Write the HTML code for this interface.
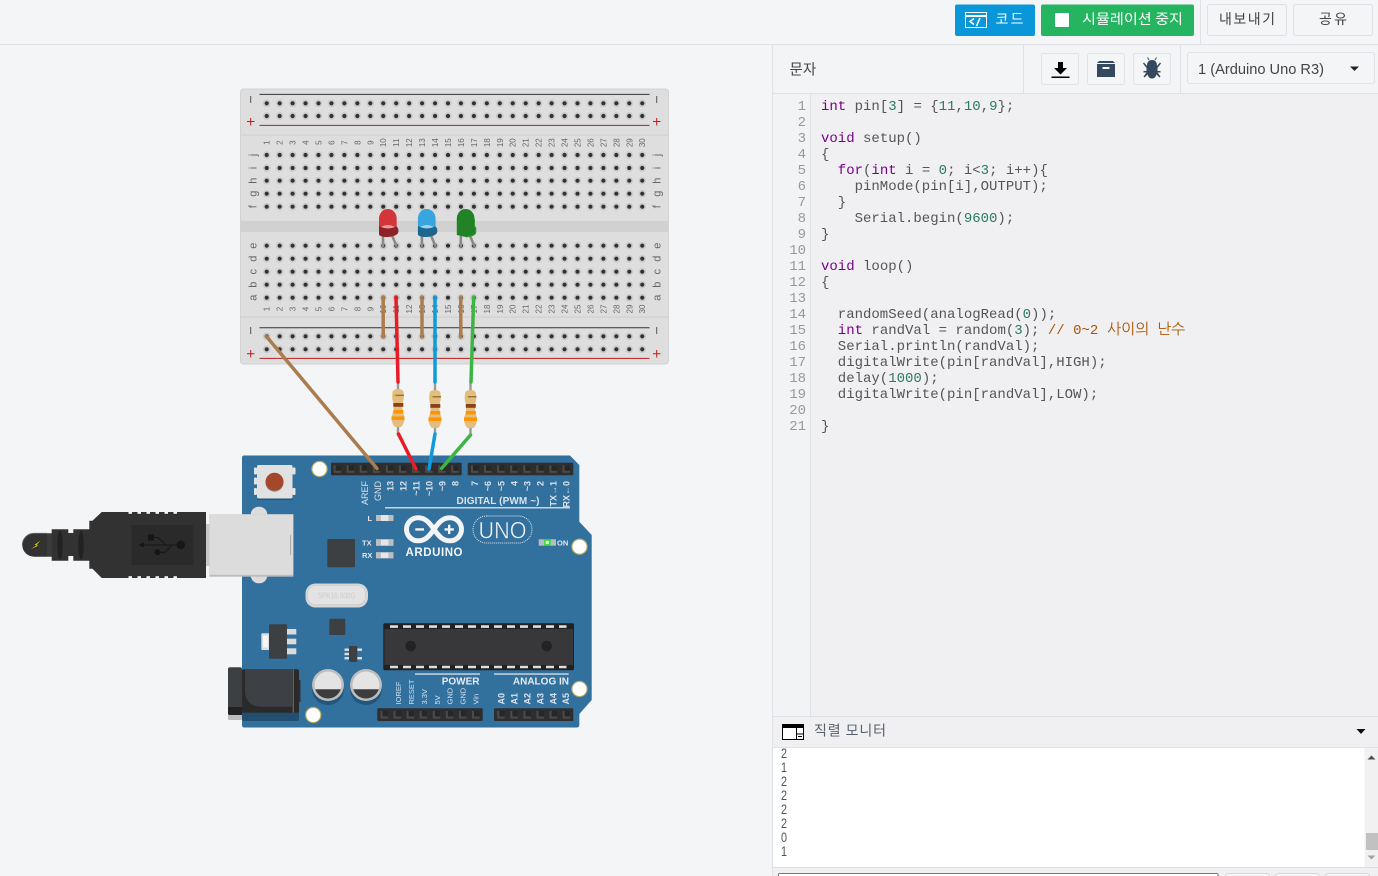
<!DOCTYPE html>
<html><head><meta charset="utf-8"><style>
html,body{margin:0;padding:0;width:1378px;height:876px;overflow:hidden;background:#f4f5f7}
svg{display:block}
text{font-family:"Liberation Sans","Noto Sans CJK KR",sans-serif}
.code text{font-family:"Liberation Mono","NanumGothic",monospace;font-size:14px;fill:#555;white-space:pre}
.k{fill:#708}.n{fill:#2a7a5c}
.ln text{font-family:"Liberation Mono",monospace;font-size:14px;fill:#999;text-anchor:end}
.bb{font-size:8px;fill:#666;text-anchor:middle}
.lt{font-size:11px;fill:#666;text-anchor:middle}
.pl{font-size:9px;font-weight:bold;fill:#d9e3ec;text-anchor:end}
.ps{font-size:7.5px;fill:#d9e3ec}
.pa{font-size:9px;font-weight:bold;fill:#d9e3ec}
.kr{font-family:"Noto Sans CJK KR","Liberation Sans",sans-serif}
</style></head><body>
<svg width="1378" height="876" viewBox="0 0 1378 876" xmlns="http://www.w3.org/2000/svg">
<defs><filter id="soft" filterUnits="userSpaceOnUse" x="0" y="70" width="700" height="680"><feGaussianBlur stdDeviation="0.35"/></filter></defs>
<rect width="1378" height="876" fill="#f4f5f7"/>

<g filter="url(#soft)">
<!-- Breadboard -->
<rect x="240.5" y="89" width="428" height="275" rx="3" fill="#dedede" stroke="#d2d2d2"/>
<rect x="241" y="134.5" width="427" height="1.2" fill="#d0d0d0"/>
<rect x="241" y="316.5" width="427" height="1.2" fill="#d0d0d0"/>
<rect x="241" y="221" width="427" height="11" fill="#d1d1d1"/>
<g fill="none" stroke-width="1">
<path d="M259.5 94.4H649.5M259.5 327.7H649.5" stroke="#333"/>
<path d="M259.5 125.4H649.5M259.5 358.4H649.5" stroke="#b91c1c"/>
</g>
<g fill="none" stroke="#c9c9c9" stroke-width="7.5" stroke-linecap="round" stroke-dasharray="0 12.95">
<path d="M266.7 103.3H642.3M266.7 116H642.3M266.7 155H642.3M266.7 168H642.3M266.7 180.7H642.3M266.7 193.7H642.3M266.7 206.7H642.3M266.7 245.7H642.3M266.7 258.7H642.3M266.7 271.7H642.3M266.7 284.7H642.3M266.7 297.7H642.3M266.7 336.3H642.3M266.7 349.3H642.3"/>
</g>
<g fill="none" stroke="#333" stroke-width="4.2" stroke-linecap="round" stroke-dasharray="0 12.95">
<path d="M266.7 103.3H642.3M266.7 116H642.3M266.7 155H642.3M266.7 168H642.3M266.7 180.7H642.3M266.7 193.7H642.3M266.7 206.7H642.3M266.7 245.7H642.3M266.7 258.7H642.3M266.7 271.7H642.3M266.7 284.7H642.3M266.7 297.7H642.3M266.7 336.3H642.3M266.7 349.3H642.3"/>
</g>
<g stroke-width="1" fill="none">
<path d="M250.7 96V103M656.7 96V103M250.7 327V334M656.7 327V334" stroke="#555"/>
<path d="M247 121.5H254.5M250.7 118V125.5M653 121.5H660.5M656.7 118V125.5M247 353.7H254.5M250.7 350V357.5M653 353.7H660.5M656.7 350V357.5" stroke="#b91c1c"/>
</g>
<!-- numbers -->
<g transform="translate(0,142.7) rotate(-90)"><g class="bb">
<text y="269.7">1</text><text y="282.6">2</text><text y="295.6">3</text><text y="308.5">4</text><text y="321.5">5</text><text y="334.4">6</text><text y="347.4">7</text><text y="360.3">8</text><text y="373.3">9</text><text y="386.2">10</text><text y="399.2">11</text><text y="412.1">12</text><text y="425.1">13</text><text y="438">14</text><text y="451">15</text><text y="463.9">16</text><text y="476.9">17</text><text y="489.8">18</text><text y="502.8">19</text><text y="515.7">20</text><text y="528.7">21</text><text y="541.6">22</text><text y="554.6">23</text><text y="567.5">24</text><text y="580.5">25</text><text y="593.4">26</text><text y="606.4">27</text><text y="619.3">28</text><text y="632.3">29</text><text y="645.2">30</text>
</g></g>
<g transform="translate(0,309) rotate(-90)"><g class="bb">
<text y="269.7">1</text><text y="282.6">2</text><text y="295.6">3</text><text y="308.5">4</text><text y="321.5">5</text><text y="334.4">6</text><text y="347.4">7</text><text y="360.3">8</text><text y="373.3">9</text><text y="386.2">10</text><text y="399.2">11</text><text y="412.1">12</text><text y="425.1">13</text><text y="438">14</text><text y="451">15</text><text y="463.9">16</text><text y="476.9">17</text><text y="489.8">18</text><text y="502.8">19</text><text y="515.7">20</text><text y="528.7">21</text><text y="541.6">22</text><text y="554.6">23</text><text y="567.5">24</text><text y="580.5">25</text><text y="593.4">26</text><text y="606.4">27</text><text y="619.3">28</text><text y="632.3">29</text><text y="645.2">30</text>
</g></g>
<!-- letters -->
<g class="lt">
<text transform="translate(256.5,155) rotate(-90)">j</text><text transform="translate(256.5,168) rotate(-90)">i</text><text transform="translate(256.5,180.7) rotate(-90)">h</text><text transform="translate(256.5,193.7) rotate(-90)">g</text><text transform="translate(256.5,206.7) rotate(-90)">f</text>
<text transform="translate(256.5,245.7) rotate(-90)">e</text><text transform="translate(256.5,258.7) rotate(-90)">d</text><text transform="translate(256.5,271.7) rotate(-90)">c</text><text transform="translate(256.5,284.7) rotate(-90)">b</text><text transform="translate(256.5,297.7) rotate(-90)">a</text>
<text transform="translate(660.5,155) rotate(-90)">j</text><text transform="translate(660.5,168) rotate(-90)">i</text><text transform="translate(660.5,180.7) rotate(-90)">h</text><text transform="translate(660.5,193.7) rotate(-90)">g</text><text transform="translate(660.5,206.7) rotate(-90)">f</text>
<text transform="translate(660.5,245.7) rotate(-90)">e</text><text transform="translate(660.5,258.7) rotate(-90)">d</text><text transform="translate(660.5,271.7) rotate(-90)">c</text><text transform="translate(660.5,284.7) rotate(-90)">b</text><text transform="translate(660.5,297.7) rotate(-90)">a</text>
</g>

<!-- LEDs -->
<g>
<g fill="none" stroke="#8a8a8a" stroke-width="2.6" stroke-linecap="round">
<path d="M383 236V246M392.3 236L396.5 246M421.9 236V246M431.2 236L435.4 246M460.8 236V246M470.1 236L474.3 246"/>
</g>
<path d="M379 234V226H396.5V226.500Q398.500 228 398.500 231Q398.500 236 388 237Q379 237 379 234Z" fill="#8e2126"/>
<path d="M379 226V218.500A8.800 9.500 0 0 1 396.700 218.500V226Q388 230 379 226Z" fill="#d43638"/>
<path d="M381 227Q388 223 395 227Q388 230 381 227Z" fill="#e79a9a"/>
<path d="M417.900 234V226H435.400V226.500Q437.400 228 437.400 231Q437.400 236 426.900 237Q417.900 237 417.900 234Z" fill="#1f668f"/>
<path d="M417.900 226V218.500A8.800 9.500 0 0 1 435.600 218.500V226Q426.900 230 417.900 226Z" fill="#38a5de"/>
<path d="M419.900 227Q426.900 223 433.900 227Q426.900 230 419.900 227Z" fill="#9bd0ea"/>
<path d="M456.800 235V218.500A8.800 9.500 0 0 1 474.500 218.500V226L475.800 228V232Q475.800 236 465.800 237L456.800 235Z" fill="#218225"/>
<path d="M474.500 219V226L475.800 228V232Q475.800 236 465.800 237" fill="none" stroke="#2f9c34" stroke-width="1"/>
</g>

<!-- Arduino board -->
<path d="M244 455.500H570L579.300 465V521.700L591.700 535V700L579.300 714V725Q579.300 727.500 577 727.500H244Q242 727.500 242 725V458Q242 455.500 244 455.500Z" fill="#306f9e"/>
<g fill="#fff" stroke="#b6a865" stroke-width="1.200">
<circle cx="319.500" cy="469" r="7.600"/><circle cx="579.500" cy="546.700" r="7.600"/><circle cx="579.500" cy="689" r="7.600"/><circle cx="313.300" cy="715" r="7.600"/>
</g>

<!-- Headers -->
<g>
<rect x="331" y="462.700" width="130.700" height="12.500" rx="1" fill="#2e2e2e"/>
<rect x="467.700" y="462.700" width="105.600" height="12.500" rx="1" fill="#2e2e2e"/>
<rect x="377.300" y="708.300" width="105.400" height="12.700" rx="1" fill="#2e2e2e"/>
<rect x="494" y="708.300" width="79.300" height="12.700" rx="1" fill="#2e2e2e"/>
<g fill="none" stroke="#4c4c4c" stroke-width="7.500" stroke-dasharray="7.500 5.570">
<path d="M333.600 469H461M471 469H572M380.500 714.700H482M497.300 714.700H572"/>
</g>
<g fill="none" stroke="#252525" stroke-width="5.500" stroke-dasharray="5.500 7.570">
<path d="M335.600 468H461M473 468H572M382.500 713.700H482M499.300 713.700H572"/>
</g>
</g>

<!-- Pin labels top -->
<g transform="translate(0,481) rotate(-90)"><g class="pl">
<text x="0" y="368" style="font-weight:normal">AREF</text><text x="0" y="381" style="font-weight:normal">GND</text>
<text x="0" y="393.500">13</text><text x="0" y="406.500">12</text><text x="0" y="419.500">~11</text><text x="0" y="432.500">~10</text><text x="0" y="445.500">~9</text><text x="0" y="458.500">8</text>
<text x="0" y="478">7</text><text x="0" y="491">~6</text><text x="0" y="504.500">~5</text><text x="0" y="517.500">4</text><text x="0" y="530.500">~3</text><text x="0" y="543.500">2</text><text x="0" y="556.500">TX→1</text><text x="0" y="569.500">RX←0</text>
</g></g>
<text x="456.500" y="504" font-size="10" font-weight="bold" fill="#d9e3ec" textLength="83">DIGITAL (PWM ~)</text>
<rect x="385" y="507" width="185" height="1.500" fill="#c6d5e1"/>

<!-- Small LEDs -->
<g fill="#e6e6e6">
<rect x="376" y="515" width="17.400" height="6"/><rect x="376" y="539.300" width="17.400" height="6.400"/><rect x="376" y="552.300" width="17.400" height="6"/>
</g>
<g fill="#bdbdbd"><rect x="376" y="515" width="5" height="6"/><rect x="388.400" y="515" width="5" height="6"/><rect x="376" y="539.300" width="5" height="6.400"/><rect x="388.400" y="539.300" width="5" height="6.400"/><rect x="376" y="552.300" width="5" height="6"/><rect x="388.400" y="552.300" width="5" height="6"/></g>
<g font-size="7.500" font-weight="bold" fill="#e3e9ef">
<text x="367.500" y="521">L</text><text x="362" y="545.500">TX</text><text x="362" y="558">RX</text>
</g>
<rect x="538.700" y="539.300" width="17.300" height="6.400" fill="#b5bcc2"/>
<rect x="544" y="539.500" width="7" height="6" fill="#4fd64f"/><rect x="545.800" y="541" width="3.200" height="3" fill="#d6ffd6"/>
<text x="557" y="545.500" font-size="7.500" font-weight="bold" fill="#e3e9ef">ON</text>
<rect x="327.300" y="539" width="27.700" height="28.300" rx="1" fill="#3c4043"/>

<!-- Logo -->
<path d="M434 529.300C429 522 425 517.800 418 517.800A11.500 11.500 0 0 0 418 540.800C425 540.800 429 536.600 434 529.300C439 522 443 517.800 450 517.800A11.500 11.500 0 0 1 450 540.800C443 540.800 439 536.600 434 529.300Z" fill="none" stroke="#f2f4f6" stroke-width="5"/>
<path d="M415.300 528.200H424V530.600H415.300ZM444.500 528.200H448V524.700H450.400V528.200H453.900V530.600H450.400V534H448V530.600H444.500Z" fill="#f2f4f6"/>
<text x="405.500" y="555.800" font-size="11.500" font-weight="bold" fill="#f2f4f6" textLength="57" lengthAdjust="spacing">ARDUINO</text>
<rect x="473" y="516" width="59" height="27" rx="13.500" fill="none" stroke="#e8eef3" stroke-width="1" stroke-dasharray="1 1"/>
<text x="502.500" y="538.500" font-size="24" fill="#f2f4f6" stroke="#306f9e" stroke-width=".5" text-anchor="middle" textLength="48" lengthAdjust="spacingAndGlyphs">UNO</text>

<!-- Reset -->
<g fill="#e4e4e4">
<rect x="254" y="467.500" width="3" height="7" rx="1"/><rect x="254" y="477.500" width="3" height="7" rx="1"/><rect x="254" y="488" width="3" height="7" rx="1"/>
<rect x="292.500" y="467.500" width="3" height="7" rx="1"/><rect x="292.500" y="488" width="3" height="7" rx="1"/>
</g>
<rect x="257" y="465" width="35.500" height="35" rx="1.500" fill="#24557b"/>
<rect x="257" y="465" width="35.500" height="33.500" rx="1.500" fill="#e1e1e1"/>
<circle cx="274.500" cy="482.700" r="9" fill="#8f8f8f"/><circle cx="274.500" cy="481.700" r="9" fill="#a5462a"/>

<!-- USB port -->
<rect x="250.700" y="506.700" width="16.600" height="76.600" rx="8" fill="#dcdcdc"/>
<rect x="206" y="524" width="4" height="42" fill="#c8c8c8"/>
<rect x="209.300" y="514.300" width="84" height="62.400" fill="#bcbcbc"/>
<rect x="209.300" y="514.300" width="84" height="60.500" fill="#dcdcdc"/>
<rect x="290" y="535" width="1" height="20" fill="#aaa"/>

<!-- USB plug -->
<path d="M22.300 545A11.700 11.700 0 0 1 34 533.300H51.700V529.300H68.300V533H73.300V529.300H89.300V520.700H92.500L101.700 512H206V578H101.700L92.500 568.700H89.300V560.700H73.300V556H68.300V560.700H51.700V556.700H34A11.700 11.700 0 0 1 22.300 545Z" fill="#333"/>
<path d="M22.300 545A11.700 11.700 0 0 1 34 533.300H47" fill="none" stroke="#666" stroke-width=".8"/>
<rect x="47" y="533.500" width="5" height="23" fill="#3b3b3b"/>
<ellipse cx="60" cy="545" rx="2.800" ry="14.500" fill="#222"/><ellipse cx="81" cy="545" rx="2.800" ry="14.500" fill="#222"/>
<path d="M40.500 541L34.500 545.500H37L31 549.500L38.500 546H36Z" fill="#f5e400" transform="translate(0,-.5)"/>
<g fill="#f4f5f7">
<rect x="128.500" y="511.500" width="3.500" height="2.300"/><rect x="137.500" y="511.500" width="3.500" height="2.300"/><rect x="146.500" y="511.500" width="3.500" height="2.300"/><rect x="155.500" y="511.500" width="3.500" height="2.300"/><rect x="164.500" y="511.500" width="3.500" height="2.300"/><rect x="173.500" y="511.500" width="3.500" height="2.300"/>
<rect x="128.500" y="576.200" width="3.500" height="2.300"/><rect x="137.500" y="576.200" width="3.500" height="2.300"/><rect x="146.500" y="576.200" width="3.500" height="2.300"/><rect x="155.500" y="576.200" width="3.500" height="2.300"/><rect x="164.500" y="576.200" width="3.500" height="2.300"/><rect x="173.500" y="576.200" width="3.500" height="2.300"/>
</g>
<rect x="131.700" y="525" width="61.600" height="40" fill="#292929"/>
<g fill="#171717"><circle cx="180.700" cy="545" r="4.200"/><rect x="148" y="534.500" width="6" height="6"/><circle cx="157.500" cy="552.300" r="3"/><path d="M138.500 545L144 542.500V547.500Z"/></g>
<path d="M143 545H178M151 537.500H158L166 545M160 552.300H165L172 545" fill="none" stroke="#171717" stroke-width="1"/>

<!-- Power jack -->
<rect x="242" y="700" width="57" height="21" rx="2" fill="#24506f"/>
<rect x="228" y="712" width="14" height="8" rx="1" fill="#bcbcbc"/>
<rect x="242" y="669.300" width="57" height="43.400" rx="2" fill="#2b2b2c"/>
<path d="M245 669.300H292V706.700H262Q245 706.700 245 690Z" fill="#3e4144"/>
<rect x="292.700" y="669.500" width="1" height="43" fill="#777"/>
<rect x="299" y="680" width="1.500" height="22" fill="#333"/>
<rect x="228" y="667.300" width="14" height="47.700" rx="2" fill="#3c4043"/>
<path d="M228 707H242V715H230Q228 715 228 713Z" fill="#232323"/>

<!-- Regulator -->
<rect x="261.300" y="633.300" width="9" height="16.700" rx="1" fill="#dcdcdc"/><rect x="263" y="635.500" width="5" height="12" fill="#f5f5f5"/>
<g fill="#dcdcdc"><rect x="286" y="629" width="10.300" height="5.500"/><rect x="286" y="638.700" width="10.300" height="5.600"/><rect x="286" y="648.300" width="10.300" height="6"/></g>
<rect x="269" y="624.300" width="18" height="34.400" rx="1" fill="#3c4043"/>

<!-- Crystal -->
<rect x="305.500" y="583.500" width="62.500" height="24" rx="10" fill="#d6d6d6"/>
<rect x="307.500" y="585.500" width="58" height="19" rx="8" fill="#e3e3e3" stroke="#cfcfcf" stroke-width=".8"/>
<text x="336.500" y="598.500" font-size="8.500" fill="#cdcdcd" text-anchor="middle" textLength="38" lengthAdjust="spacingAndGlyphs">SPK16.000G</text>

<rect x="329.300" y="618.700" width="16" height="16.300" rx="1" fill="#3c4043"/>
<!-- small IC -->
<g fill="#dcdcdc"><rect x="344.500" y="648.500" width="5" height="2.400"/><rect x="344.500" y="652.800" width="5" height="2.400"/><rect x="344.500" y="657" width="5" height="2.400"/><rect x="357" y="648.500" width="5" height="2.400"/><rect x="357" y="657" width="5" height="2.400"/></g>
<rect x="349" y="646" width="8.300" height="16" rx="1" fill="#3c4043"/>

<!-- Capacitors -->
<circle cx="328" cy="689" r="16" fill="#24567b"/><circle cx="366" cy="689" r="16" fill="#24567b"/>
<circle cx="328" cy="685" r="16" fill="#bdbdbd"/><circle cx="366" cy="685" r="16" fill="#bdbdbd"/>
<circle cx="328" cy="685" r="13.500" fill="#e4e4e4"/><circle cx="366" cy="685" r="13.500" fill="#e4e4e4"/>
<path d="M315.200 689.300H340.800A13.500 13.500 0 0 1 315.200 689.300ZM353.200 689.300H378.800A13.500 13.500 0 0 1 353.200 689.300Z" fill="#3c3c3c"/>

<!-- Main chip -->
<rect x="383.300" y="623.300" width="190.700" height="47" rx="1.500" fill="#232323"/>
<rect x="384.500" y="629" width="188.500" height="36" rx="1" fill="#37393b"/>
<g fill="none" stroke="#dedede" stroke-width="2.600" stroke-dasharray="8 5">
<path d="M390 626.600H566.500M390 667H566.500"/>
</g>
<circle cx="410.700" cy="646" r="5.300" fill="#232323"/><circle cx="546.700" cy="646" r="5.300" fill="#232323"/>

<!-- Power labels -->
<rect x="415" y="673.300" width="65" height="1.500" fill="#c6d5e1"/><rect x="494" y="673.300" width="74.700" height="1.500" fill="#c6d5e1"/>
<text x="479.500" y="684.500" font-size="10" font-weight="bold" fill="#e6ecf1" text-anchor="end">POWER</text>
<text x="569" y="684.500" font-size="10" font-weight="bold" fill="#e6ecf1" text-anchor="end">ANALOG IN</text>
<g transform="translate(0,704.500) rotate(-90)"><g class="ps">
<text y="401">IOREF</text><text y="414">RESET</text><text y="427">3.3V</text><text y="440">5V</text><text y="452.500">GND</text><text y="465.500">GND</text><text y="478.500">Vin</text>
</g><g class="pa">
<text y="504.500">A0</text><text y="517.500">A1</text><text y="530.500">A2</text><text y="543.500">A3</text><text y="556.500">A4</text><text y="569">A5</text>
</g></g>

<!-- Resistor leads -->
<g fill="none" stroke="#9a9a9a" stroke-width="2.400"><path d="M398 380V436M435 380V436M470.500 380V436"/></g>

<!-- Resistors -->
<g>
<path d="M392.500 393Q392.500 389 398 389Q403.500 389 403.500 393Q404.500 399 402.500 403V411L404.500 417Q404.500 424 401 427H395Q391.500 424 391.500 417L393.500 411V403Q391.500 399 392.500 393Z" fill="#e2bd7d"/>
<rect x="393" y="394.600" width="11" height="1.500" fill="#8f7a3c"/><rect x="393" y="394.600" width="2.500" height="1.500" fill="#d8c43a"/>
<rect x="393.300" y="403" width="10" height="3.800" fill="#8a4313"/>
<rect x="393.300" y="410" width="10" height="3.500" fill="#ff9300"/>
<rect x="391.500" y="416.500" width="13" height="3.500" fill="#ff9300"/>
</g>
<g>
<path d="M429.500 394Q429.500 390 435 390Q440.500 390 440.500 394Q441.500 400 439.500 404V412L441.500 418Q441.500 425 438 428H432Q428.500 425 428.500 418L430.500 412V404Q428.500 400 429.500 394Z" fill="#e2bd7d"/>
<rect x="430" y="396" width="11" height="1.500" fill="#8f7a3c"/><rect x="430" y="396" width="2.500" height="1.500" fill="#d8c43a"/>
<rect x="430.300" y="404" width="10" height="3.800" fill="#8a4313"/>
<rect x="430.300" y="411" width="10" height="3.500" fill="#ff9300"/>
<rect x="428.500" y="417.500" width="13" height="3.500" fill="#ff9300"/>
</g>
<g>
<path d="M465 394Q465 390 470.500 390Q476 390 476 394Q477 400 475 404V412L477 418Q477 425 473.500 428H467.500Q464 425 464 418L466 412V404Q464 400 465 394Z" fill="#e2bd7d"/>
<rect x="465.500" y="396" width="11" height="1.500" fill="#8f7a3c"/><rect x="465.500" y="396" width="2.500" height="1.500" fill="#d8c43a"/>
<rect x="465.800" y="404" width="10" height="3.800" fill="#8a4313"/>
<rect x="465.800" y="411" width="10" height="3.500" fill="#ff9300"/>
<rect x="464" y="417.500" width="13" height="3.500" fill="#ff9300"/>
</g>

<!-- Wires -->
<g fill="none" stroke-width="3.500" stroke-linecap="round">
<path d="M383.200 297V337M422 297V337M460.800 297V337" stroke="#ab7b4d"/>
<path d="M266.500 336.500L377 468.500" stroke="#ab7b4d"/>
<path d="M396 297L398 382M398.500 434L416 469" stroke="#e81e25"/>
<path d="M435 297V382M435 434L429 469" stroke="#0a9bdc"/>
<path d="M473.700 297L471 382M470.500 435L441.500 468.500" stroke="#3cb544"/>
</g>
</g>

<!-- ===== Right panel ===== -->
<rect x="772" y="45" width="606" height="831" fill="#f0f0f3"/>
<rect x="0" y="44" width="1378" height="1" fill="#dfe1e6"/>
<rect x="772" y="44" width="1" height="832" fill="#dfe1e6"/>
<rect x="1200" y="0" width="1" height="44" fill="#dfe1e6"/>

<rect x="955" y="4.500" width="80" height="31.500" rx="2" fill="#0a97d9"/>
<g fill="none" stroke="#fff"><rect x="965.500" y="12.500" width="21" height="15"/><path d="M965.500 16H986.500" stroke-width="2"/><path d="M974 18.500L970 21.500L974 24.500M980 18L976.500 26" stroke-width="1.500"/></g>
<text x="995.500" y="24" font-size="14" fill="#fff" class="kr" textLength="28" lengthAdjust="spacing">코드</text>
<rect x="1041" y="4.500" width="153" height="31.500" rx="2" fill="#25b560"/>
<rect x="1055" y="13" width="14" height="14" rx="1" fill="#fff"/>
<text x="1082" y="24" font-size="14" fill="#fff" class="kr" textLength="101" lengthAdjust="spacingAndGlyphs">시뮬레이션 중지</text>
<rect x="1207.500" y="4.500" width="79" height="31" rx="2" fill="#f4f5f7" stroke="#dfe1e6"/>
<text x="1219" y="24" font-size="14" fill="#444" class="kr" textLength="56" lengthAdjust="spacing">내보내기</text>
<rect x="1293.500" y="4.500" width="79" height="31" rx="2" fill="#f4f5f7" stroke="#dfe1e6"/>
<text x="1319" y="24" font-size="14" fill="#444" class="kr" textLength="28" lengthAdjust="spacing">공유</text>

<!-- bar 2 -->
<rect x="773" y="45" width="605" height="48" fill="#f3f4f6"/>
<rect x="772" y="93" width="606" height="1" fill="#dfe1e6"/>
<rect x="1023" y="45" width="1" height="48" fill="#dfe1e6"/><rect x="1180" y="45" width="1" height="48" fill="#dfe1e6"/>
<text x="789.500" y="74.500" font-size="14.500" fill="#444" class="kr">문자</text>
<g fill="#f4f5f7" stroke="#e1e3e8">
<rect x="1041.500" y="53.500" width="37" height="31" rx="2"/><rect x="1087.500" y="53.500" width="37" height="31" rx="2"/><rect x="1133.500" y="53.500" width="37" height="31" rx="2"/>
<rect x="1187.500" y="52.500" width="187" height="31" rx="2"/>
</g>
<path d="M1058 62H1063V68H1067L1060.500 74.500L1054 68H1058ZM1051.500 76.500H1069.500V78H1051.500Z" fill="#000"/>
<path d="M1097 64V77H1115V64ZM1102.500 67H1109.500V69H1102.500Z" fill="#34495e" fill-rule="evenodd"/>
<path d="M1099 61H1113L1115 63H1097Z" fill="#34495e"/>
<path d="M1152 60C1148 60 1147 63 1147 66L1144 62.500L1143 63.500L1146.500 68V71H1143.500V72.500H1146.500L1143.500 76.500L1144.500 77.500L1147.500 74.500C1148.500 77.500 1150 78.500 1152 78.500C1154 78.500 1155.500 77.500 1156.500 74.500L1159.500 77.500L1160.500 76.500L1157.500 72.500H1160.500V71H1157.500V68L1161 63.500L1160 62.500L1157 66C1157 63 1156 60 1152 60Z" fill="#34495e"/>
<path d="M1149 60L1147.500 57.500M1155 60L1156.500 57.500" stroke="#34495e" stroke-width="1"/>
<text x="1198" y="74" font-size="14.700" fill="#444" textLength="126" lengthAdjust="spacingAndGlyphs">1 (Arduino Uno R3)</text>
<path d="M1350 66.500H1359L1354.500 71Z" fill="#222"/>

<!-- Code -->
<rect x="773" y="94" width="37" height="622" fill="#f2f3f5"/>
<rect x="810" y="94" width="1" height="622" fill="#dfe1e6"/>
<g class="ln">
<text x="806" y="110">1</text><text x="806" y="126">2</text><text x="806" y="142">3</text><text x="806" y="158">4</text><text x="806" y="174">5</text><text x="806" y="190">6</text><text x="806" y="206">7</text><text x="806" y="222">8</text><text x="806" y="238">9</text><text x="806" y="254">10</text><text x="806" y="270">11</text><text x="806" y="286">12</text><text x="806" y="302">13</text><text x="806" y="318">14</text><text x="806" y="334">15</text><text x="806" y="350">16</text><text x="806" y="366">17</text><text x="806" y="382">18</text><text x="806" y="398">19</text><text x="806" y="414">20</text><text x="806" y="430">21</text>
</g>
<g class="code" xml:space="preserve">
<text x="821" y="110"><tspan class="k">int</tspan> pin[<tspan class="n">3</tspan>] = {<tspan class="n">11</tspan>,<tspan class="n">10</tspan>,<tspan class="n">9</tspan>};</text>
<text x="821" y="142"><tspan class="k">void</tspan> setup()</text>
<text x="821" y="158">{</text>
<text x="837.800" y="174"><tspan class="k">for</tspan>(<tspan class="k">int</tspan> i = <tspan class="n">0</tspan>; i&lt;<tspan class="n">3</tspan>; i++){</text>
<text x="854.600" y="190">pinMode(pin[i],OUTPUT);</text>
<text x="837.800" y="206">}</text>
<text x="854.600" y="222">Serial.begin(<tspan class="n">9600</tspan>);</text>
<text x="821" y="238">}</text>
<text x="821" y="270"><tspan class="k">void</tspan> loop()</text>
<text x="821" y="286">{</text>
<text x="837.800" y="318">randomSeed(analogRead(<tspan class="n">0</tspan>));</text>
<text x="837.800" y="334"><tspan class="k">int</tspan> randVal = random(<tspan class="n">3</tspan>); <tspan fill="#a50">// 0~2 </tspan><tspan fill="#a50" x="1107" style="font-family:'NanumGothic','Noto Sans CJK KR',sans-serif;font-size:15px">사이의</tspan><tspan fill="#a50" x="1157" style="font-family:'NanumGothic','Noto Sans CJK KR',sans-serif;font-size:15px">난수</tspan></text>
<text x="837.800" y="350">Serial.println(randVal);</text>
<text x="837.800" y="366">digitalWrite(pin[randVal],HIGH);</text>
<text x="837.800" y="382">delay(<tspan class="n">1000</tspan>);</text>
<text x="837.800" y="398">digitalWrite(pin[randVal],LOW);</text>
<text x="821" y="430">}</text>
</g>

<!-- Serial monitor -->
<rect x="773" y="716" width="605" height="1" fill="#dfe1e6"/>
<rect x="773" y="717" width="605" height="30" fill="#f0f0f3"/>
<rect x="773" y="747" width="605" height="1" fill="#dfe1e6"/>
<rect x="782.500" y="724.500" width="21" height="15" fill="#fff" stroke="#000"/>
<rect x="782" y="724" width="22" height="4" fill="#000"/>
<path d="M796.500 728V739.500M796.500 734H803.500M798 736.500H802" stroke="#000" stroke-width="1" fill="none"/>
<text x="814" y="735.500" font-size="14" fill="#56606b" class="kr" textLength="72" lengthAdjust="spacing">직렬 모니터</text>
<path d="M1356.500 729H1365.500L1361 734Z" fill="#111"/>
<rect x="773" y="748" width="591.500" height="119" fill="#fff"/>
<rect x="1364.500" y="748" width="13.500" height="119" fill="#f1f1f1"/>
<rect x="1366" y="833" width="12" height="17" fill="#c1c1c1"/>
<path d="M1367.500 759.500H1375.500L1371.500 755.500Z" fill="#505050"/>
<path d="M1367.500 855.500H1375.500L1371.500 859.500Z" fill="#a3a3a3"/>
<g font-size="14" fill="#4a5561">
<text x="781" y="758" textLength="6" lengthAdjust="spacingAndGlyphs">2</text><text x="781" y="772" textLength="6" lengthAdjust="spacingAndGlyphs">1</text><text x="781" y="786" textLength="6" lengthAdjust="spacingAndGlyphs">2</text><text x="781" y="800" textLength="6" lengthAdjust="spacingAndGlyphs">2</text><text x="781" y="814" textLength="6" lengthAdjust="spacingAndGlyphs">2</text><text x="781" y="828" textLength="6" lengthAdjust="spacingAndGlyphs">2</text><text x="781" y="842" textLength="6" lengthAdjust="spacingAndGlyphs">0</text><text x="781" y="856" textLength="6" lengthAdjust="spacingAndGlyphs">1</text>
</g>
<rect x="773" y="867" width="605" height="1" fill="#d9dce1"/>
<rect x="778.500" y="873.500" width="439.500" height="10" rx="1" fill="#fff" stroke="#777"/>
<g fill="#f4f5f7" stroke="#d5d7dc">
<rect x="1225.500" y="873.500" width="44" height="10" rx="3"/><rect x="1275.500" y="873.500" width="44" height="10" rx="3"/><rect x="1325.500" y="873.500" width="44" height="10" rx="3"/>
</g>
</svg>
</body></html>
